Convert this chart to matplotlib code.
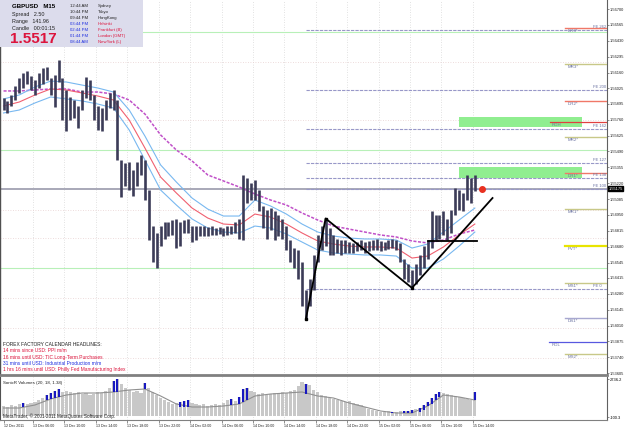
import matplotlib
matplotlib.use("Agg")
import matplotlib.pyplot as plt
from matplotlib.patches import Rectangle

plt.rcParams['font.family'] = ['Liberation Sans', 'DejaVu Sans']

W, H = 625, 429

# GBPUSD bars, one value per 30 min (M15 index = 2*i)
highs = [1.5594, 1.5592, 1.5597, 1.5605, 1.5611, 1.5616, 1.5617, 1.5613, 1.5610, 1.5616,
         1.5620, 1.5621, 1.5611, 1.5614, 1.5627, 1.5611, 1.5601, 1.5595, 1.5593, 1.5588,
         1.5601, 1.5612, 1.5610, 1.5597, 1.5588, 1.5586, 1.5593, 1.5599, 1.5601, 1.5593,
         1.5542, 1.5539, 1.5540, 1.5533, 1.5540, 1.5546, 1.5542, 1.5516, 1.5486, 1.5480,
         1.5486, 1.5489, 1.5489, 1.5491, 1.5492, 1.5489, 1.5491, 1.5492, 1.5486, 1.5486,
         1.5486, 1.5486, 1.5485, 1.5486, 1.5484, 1.5485, 1.5484, 1.5486, 1.5486, 1.5489,
         1.5492, 1.5529, 1.5526, 1.5522, 1.5525, 1.5516, 1.5503, 1.5499, 1.5501, 1.5498,
         1.5495, 1.5492, 1.5486, 1.5474, 1.5467, 1.5465, 1.5455, 1.5431, 1.5441, 1.5461,
         1.5478, 1.5486, 1.5492, 1.5484, 1.5478, 1.5475, 1.5474, 1.5474, 1.5472, 1.5471,
         1.5472, 1.5474, 1.5472, 1.5473, 1.5474, 1.5475, 1.5473, 1.5472, 1.5474, 1.5475,
         1.5474, 1.5471, 1.5458, 1.5453, 1.5448, 1.5453, 1.5461, 1.5469, 1.5474, 1.5498,
         1.5495, 1.5495, 1.5498, 1.5492, 1.5499, 1.5518, 1.5516, 1.5514, 1.5529, 1.5526,
         1.5529]
lows = [1.5584, 1.5582, 1.5588, 1.5593, 1.5599, 1.5603, 1.5606, 1.5601, 1.5597, 1.5603,
        1.5606, 1.5610, 1.5597, 1.5587, 1.5608, 1.5576, 1.5566, 1.5576, 1.5577, 1.5569,
        1.5584, 1.5594, 1.5593, 1.5576, 1.5567, 1.5566, 1.5576, 1.5586, 1.5584, 1.5542,
        1.5510, 1.5520, 1.5516, 1.5511, 1.5520, 1.5529, 1.5508, 1.5474, 1.5455, 1.5450,
        1.5469, 1.5475, 1.5477, 1.5478, 1.5467, 1.5469, 1.5480, 1.5480, 1.5472, 1.5474,
        1.5477, 1.5477, 1.5477, 1.5478, 1.5478, 1.5479, 1.5477, 1.5478, 1.5479, 1.5480,
        1.5475, 1.5474, 1.5505, 1.5508, 1.5508, 1.5498, 1.5484, 1.5475, 1.5482, 1.5474,
        1.5477, 1.5475, 1.5465, 1.5455, 1.5450, 1.5441, 1.5418, 1.5407, 1.5418, 1.5431,
        1.5455, 1.5465, 1.5469, 1.5461, 1.5461, 1.5463, 1.5461, 1.5463, 1.5463, 1.5463,
        1.5464, 1.5465, 1.5463, 1.5464, 1.5465, 1.5465, 1.5464, 1.5465, 1.5466, 1.5467,
        1.5465, 1.5455, 1.5441, 1.5438, 1.5433, 1.5436, 1.5444, 1.5450, 1.5458, 1.5467,
        1.5474, 1.5475, 1.5478, 1.5474, 1.5480, 1.5495, 1.5499, 1.5498, 1.5508, 1.5505,
        1.5515]

# moving averages, one value every 8 M15 bars
ma_mid = [1.55876, 1.55910, 1.55970, 1.56021, 1.56012, 1.55987, 1.55961, 1.55927, 1.55757, 1.55519,
          1.55272, 1.55137, 1.55009, 1.54924, 1.54873, 1.54865, 1.54958, 1.54932, 1.54873, 1.54797,
          1.54729, 1.54703, 1.54686, 1.54678, 1.54678, 1.54669, 1.54584, 1.54601, 1.54678, 1.54780,
          1.54873]
ma_up = [1.55936, 1.55970, 1.56038, 1.56088, 1.56080, 1.56054, 1.56029, 1.55995, 1.55842, 1.55621,
         1.55375, 1.55230, 1.55094, 1.55000, 1.54941, 1.54941, 1.55077, 1.55026, 1.54958, 1.54873,
         1.54805, 1.54771, 1.54754, 1.54746, 1.54746, 1.54737, 1.54669, 1.54703, 1.54805, 1.54907,
         1.55009]
ma_dn = [1.55817, 1.55842, 1.55902, 1.55953, 1.55936, 1.55919, 1.55893, 1.55859, 1.55672, 1.55417,
         1.55162, 1.55035, 1.54916, 1.54839, 1.54805, 1.54797, 1.54856, 1.54839, 1.54788, 1.54720,
         1.54652, 1.54627, 1.54618, 1.54610, 1.54610, 1.54601, 1.54499, 1.54499, 1.54576, 1.54686,
         1.54805]
ma_slow = [1.56004, 1.56004, 1.56012, 1.56021, 1.56021, 1.55995, 1.55995, 1.55978, 1.55927, 1.55808,
           1.55630, 1.55502, 1.55409, 1.55290, 1.55239, 1.55188, 1.55128, 1.55077, 1.55035, 1.54967,
           1.54907, 1.54856, 1.54830, 1.54805, 1.54780, 1.54763, 1.54729, 1.54712, 1.54737, 1.54788,
           1.54822]

# SonicR volumes
volume = [724, 649, 798, 724, 873, 947, 873, 947, 1022, 1171,
          1320, 1544, 1693, 1843, 1992, 1768, 1843, 1768, 1693, 1768,
          1619, 1693, 1544, 1619, 1768, 1693, 1843, 2066, 2589, 2736,
          2365, 2066, 1917, 1768, 1843, 1693, 2439, 2066, 1768, 1544,
          1320, 1171, 1022, 873, 947, 1022, 1097, 1171, 947, 873,
          798, 873, 724, 798, 873, 798, 947, 1171, 1246, 1097,
          1395, 1992, 2066, 1843, 1768, 1619, 1693, 1544, 1619, 1693,
          1619, 1768, 1693, 1843, 1917, 2216, 2514, 2365, 2290, 1917,
          1768, 1544, 1470, 1320, 1246, 1171, 1097, 1022, 1097, 947,
          873, 798, 649, 500, 425, 351, 276, 276, 351, 276,
          276, 351, 351, 351, 425, 500, 574, 798, 1022, 1320,
          1619, 1768, 1693, 1619, 1544, 1470, 1395, 1320, 1246, 1171,
          1768]
volume_ma = [574, 574, 798, 1246, 1544, 1693, 1693, 1768, 1917, 1992,
             1470, 873, 649, 649, 724, 873, 1470, 1619, 1693, 1768,
             1470, 1320, 947, 649, 351, 201, 201, 724, 1544, 1395,
             1171]
blue_idx = [5, 11, 12, 13, 14, 28, 29, 36, 45, 46, 47, 58, 60, 61, 62, 77,
            99, 102, 103, 104, 106, 107, 108, 109, 110, 111, 120]
blue_base = [630, 1150, 1246, 1320, 1400, 1768, 1800, 1992, 680, 660, 650, 800, 873, 1000, 1150, 1650,
             201, 201, 201, 201, 300, 400, 724, 900, 1150, 1400, 1171]

# axis labels
price_ticks = [1.56700, 1.56565, 1.56430, 1.56295, 1.56160, 1.56025, 1.55895, 1.55760,
               1.55625, 1.55490, 1.55355, 1.55220, 1.55085, 1.54950, 1.54815, 1.54680,
               1.54545, 1.54415, 1.54280, 1.54145, 1.54010, 1.53875, 1.53740, 1.53605]
time_ticks = [0, 15, 31, 47, 63, 79, 95, 111, 127, 143, 159, 175, 191, 207, 223, 239]
time_labels = ["12 Dec 2011", "13 Dec 06:00", "13 Dec 10:00", "13 Dec 14:00", "13 Dec 18:00",
               "13 Dec 22:00", "14 Dec 02:00", "14 Dec 06:00", "14 Dec 10:00", "14 Dec 14:00",
               "14 Dec 18:00", "14 Dec 22:00", "15 Dec 02:00", "15 Dec 06:00", "15 Dec 10:00",
               "15 Dec 14:00"]
last_price = 1.55175

# daily pivots (short lines on the right)
piv_names = ["DR3*", "MR3*", "DR2*", "MR2*", "DR1*", "MR1*", "PVT*", "MS1*", "DS1*", "MS2*"]
piv_prices = [1.56539, 1.56233, 1.55919, 1.55613, 1.55307, 1.55000, 1.54686, 1.54372, 1.54074, 1.53767]
piv_colors = ["#f07868", "#c8c888", "#f07868", "#c8c888", "#f07868", "#c8c888", "#e8e400",
              "#c8c888", "#a8a8d0", "#c8c888"]
# fibo expansion from the zigzag low
fe_names = ["FE 262", "FE 200", "FE 162", "FE 127", "FE 138", "FE 100", "FE 0"]
fe_prices = [1.56522, 1.56012, 1.55680, 1.55392, 1.55264, 1.55175, 1.54321]
green_levels = [1.56505, 1.55502, 1.54499]
dotted_levels = [1.56250, 1.55757, 1.54992, 1.54754, 1.54244, 1.53989, 1.53734]
range_names = ["RDH", "RDL"]
range_prices = [1.55740, 1.53870]
zones_low = [1.55698, 1.55264]
zones_high = [1.55783, 1.55358]

zz_bars = [154, 164, 208]
zz_prices = [1.5407, 1.5492, 1.5433]
trend_bars = [208, 249]
trend_prices = [1.5433, 1.55094]
flat_bars = [216, 241]
flat_price = 1.54729

bars = [2 * i for i in range(len(highs))]
ma_bars = [8 * i for i in range(len(ma_mid))]

fig = plt.figure(figsize=(W / 100, H / 100), dpi=100)
fig.patch.set_facecolor("white")
ax = fig.add_axes([0.0, 1 - 375 / H, 607 / W, 375 / H])
ax2 = fig.add_axes([0.0, 1 - 420 / H, 607 / W, 43 / H])

xlim = (-1.8, 307.3)
ax.set_xlim(*xlim)
ax.set_ylim(1.53590, 1.56777)

# grid
for t in time_ticks[1:]:
    ax.axvline(t, color="#d8d8d8", lw=0.6, ls=(0, (1, 2)), zorder=0)
    ax2.axvline(t, color="#d8d8d8", lw=0.6, ls=(0, (1, 2)), zorder=0)
for p in dotted_levels:
    ax.axhline(p, color="#e8d0d0", lw=0.6, ls=(0, (1, 2)), zorder=0)
for p in green_levels:
    ax.axhline(p, color="#b8f0b8", lw=0.8, zorder=1)
ax.axhline(last_price, color="#a8a8b8", lw=1.4, zorder=1)

# zones and levels
for lo, hi in zip(zones_low, zones_high):
    ax.add_patch(Rectangle((231.9, lo), 294.5 - 231.9, hi - lo, color="#90ee90", lw=0, zorder=1))
for name, p in zip(fe_names, fe_prices):
    ax.plot([zz_bars[0], xlim[1]], [p, p], color="#9898c8", lw=0.8, ls=(0, (3, 1)), zorder=2)
    ax.text(300.1, p + 0.00008, name, fontsize=3.0, color="#6870a0", va="bottom", zorder=6)
for name, p, c in zip(piv_names, piv_prices, piv_colors):
    ax.plot([285.9, xlim[1]], [p, p], color=c, lw=1.6 if name == "PVT*" else 1.0, zorder=3)
    ax.text(287.4, p - 0.00008, name, fontsize=3.2, color="#6870a0", va="top", zorder=6)
ax.plot([278.2, xlim[1]], [range_prices[0]] * 2, color="#e04040", lw=0.9, zorder=3)
ax.plot([277.7, xlim[1]], [range_prices[1]] * 2, color="#5858e0", lw=0.9, zorder=3)
for name, p in zip(range_names, range_prices):
    ax.text(279.3, p - 0.00008, name, fontsize=3.2, color="#6870a0", va="top", zorder=6)

# moving averages
ax.plot(ma_bars, ma_slow, color="#c050c8", lw=1.1, ls=(0, (2, 1)), zorder=3)
ax.plot(ma_bars, ma_up, color="#78b8f0", lw=0.8, zorder=3)
ax.plot(ma_bars, ma_dn, color="#78b8f0", lw=0.8, zorder=3)
ax.plot(ma_bars, ma_mid, color="#f06070", lw=0.8, zorder=3)

# price bars
ax.vlines(bars, lows, highs, color="#3c3c58", lw=1.9, zorder=4)

# zigzag and trend lines
ax.plot(zz_bars, zz_prices, color="black", lw=1.3, zorder=5)
ax.plot(zz_bars, zz_prices, "s", color="black", ms=1.5, zorder=5)
ax.plot(trend_bars, trend_prices, color="black", lw=1.3, zorder=5)
ax.plot(flat_bars, [flat_price] * 2, color="black", lw=1.3, zorder=5)
ax.plot([243.6], [last_price], "o", color="#e83020", ms=4, zorder=6)

# price axis
ax.yaxis.tick_right()
ax.set_yticks(price_ticks)
ax.set_yticklabels(["%.5f" % p for p in price_ticks], fontsize=2.9, color="#202020")
ax.tick_params(axis="y", length=1.5, width=0.5, color="#606060", pad=0.8)
ax.set_xticks([])
ax.spines["top"].set_visible(False)
ax.spines["right"].set_color("#606060")
ax.spines["right"].set_linewidth(0.8)
ax.spines["left"].set_color("#505050")
ax.spines["left"].set_linewidth(1.0)
ax.spines["bottom"].set_color("#808080")
ax.spines["bottom"].set_linewidth(2.0)
ax.text(1.0025, last_price, "%.5f" % last_price, transform=ax.get_yaxis_transform(),
        fontsize=2.9, color="white", va="center", ha="left", clip_on=False,
        bbox=dict(boxstyle="square,pad=0.12", fc="black", ec="black"))

# volume panel
ax2.set_xlim(*xlim)
ax2.set_ylim(-321, 2887)
ax2.bar(bars, volume, width=1.6, color="#c8c8c8", zorder=2)
ax2.plot(ma_bars, volume_ma, color="#909090", lw=0.8, zorder=3)
ax2.vlines([2 * i for i in blue_idx], blue_base, [volume[i] for i in blue_idx],
           color="#1818c0", lw=1.5, zorder=4)
ax2.yaxis.tick_right()
ax2.set_yticks([2736.2, -100.3])
ax2.set_yticklabels(["2736.2", "-100.3"], fontsize=2.9)
ax2.tick_params(axis="y", length=1.5, width=0.5, color="#606060", pad=0.8)
ax2.set_xticks(time_ticks)
ax2.set_xticklabels(time_labels, fontsize=2.6, color="#202020")
for lab in ax2.get_xticklabels():
    lab.set_ha("left")
ax2.tick_params(axis="x", length=2, width=0.5, color="#606060", pad=0.8)
ax2.spines["top"].set_visible(False)
ax2.spines["right"].set_color("#606060")
ax2.spines["left"].set_color("#505050")
ax2.spines["bottom"].set_color("#808080")
ax2.spines["bottom"].set_linestyle((0, (1, 1)))
ax2.text(3 / 607, 0.86, "SonicR Volumes (20, 18, 1.38)", transform=ax2.transAxes,
         fontsize=3.2, color="#202020", va="center")
ax2.text(3 / 607, 0.08, "MetaTrader, \u00a9 2001-2011 MetaQuotes Software Corp.",
         transform=ax2.transAxes, fontsize=3.3, color="#202020", va="center")


def ftext(px, py, s, **kw):
    kw.setdefault("va", "center")
    kw.setdefault("zorder", 6)
    fig.text(px / W, 1 - py / H, s, **kw)


# info box
fig.add_artist(Rectangle((0, 1 - 47 / H), 143 / W, 47 / H, transform=fig.transFigure,
                         facecolor="#dcdcec", edgecolor="none", zorder=4))
ftext(12, 6, "GBPUSD   M15", fontsize=4.4, weight="bold", color="black")
ftext(12, 14.5, "Spread   2.50", fontsize=3.9, color="#202020")
ftext(12, 21.5, "Range   141.96", fontsize=3.9, color="#202020")
ftext(12, 28.5, "Candle   00:01:15", fontsize=3.9, color="#202020")
ftext(10, 39, "1.5517", fontsize=11, weight="bold", color="#dc143c")
clock_times = ["12:44 AM", "10:44 PM", "09:44 PM", "03:44 PM", "02:44 PM", "01:44 PM", "08:44 AM"]
clock_cities = ["Sydney", "Tokyo", "HongKong", "Helsinki", "Frankfurt (B)", "London (GMT)", "NewYork (L)"]
for j, (t, c) in enumerate(zip(clock_times, clock_cities)):
    closed = j < 3
    ftext(70, 6 + 6 * j, t, fontsize=3.1, color="#202020" if closed else "#2030e0")
    ftext(98, 6 + 6 * j, c, fontsize=3.1, color="#202020" if closed else "#dc143c")

# calendar headlines
ftext(3, 345, "FOREX FACTORY CALENDAR HEADLINES:", fontsize=3.5, color="#202020")
news = ["14 mins since USD: PPI m/m",
        "16 mins until USD: TIC Long-Term Purchases",
        "31 mins until USD: Industrial Production m/m",
        "1 hrs 16 mins until USD: Philly Fed Manufacturing Index"]
news_colors = ["#dc143c", "#dc143c", "#2030e0", "#dc143c"]
for j, (s, c) in enumerate(zip(news, news_colors)):
    ftext(3, 351 + 6.3 * j, s, fontsize=3.5, color=c)

fig.savefig("out.png", dpi=100, facecolor="white")
